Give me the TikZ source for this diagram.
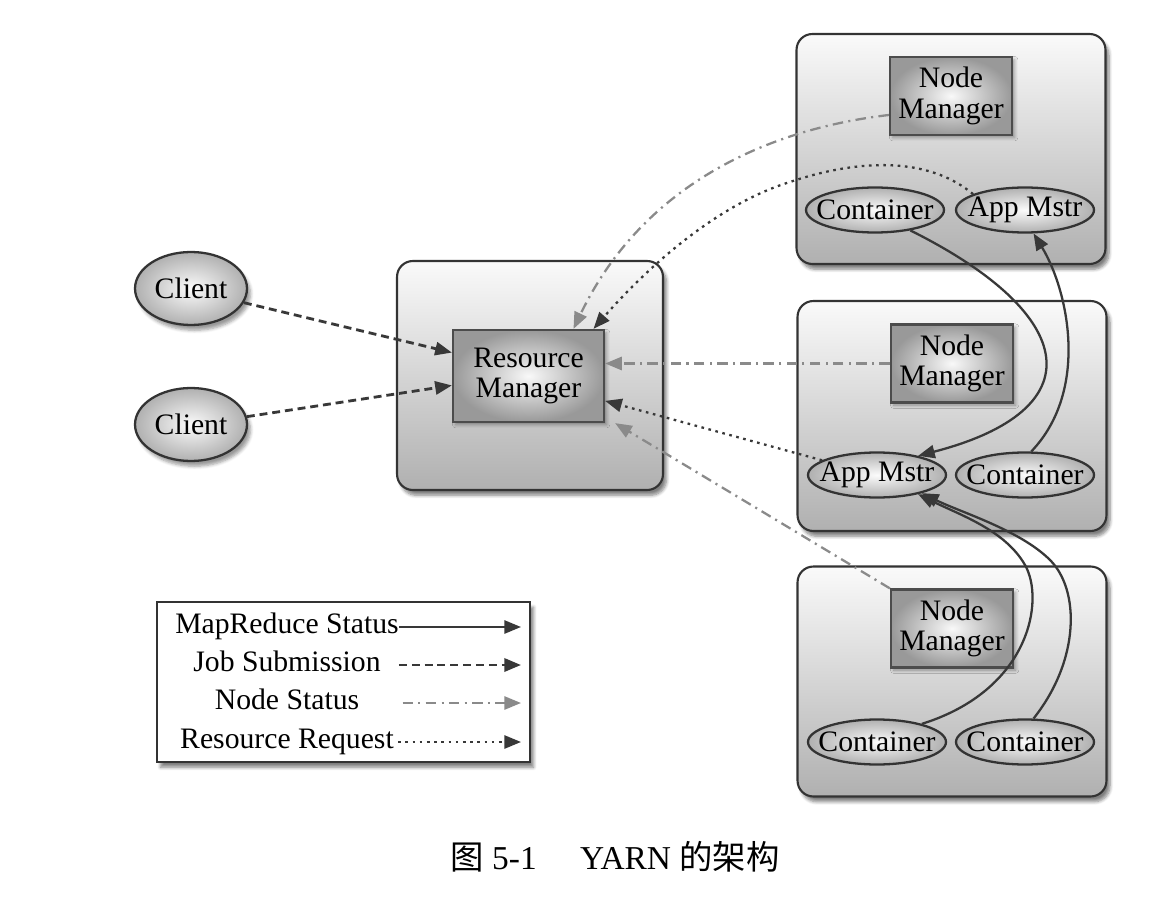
\documentclass[tikz,border=0pt]{standalone}
\usepackage{fontspec}
\setmainfont{Liberation Serif}
\newfontfamily\cjk{Noto Sans CJK SC}
\usetikzlibrary{arrows.meta,shadows.blur,shapes.geometric,calc}

\definecolor{edgec}{HTML}{333333}
\definecolor{dkc}{HTML}{383838}
\definecolor{ltc}{HTML}{8A8A8A}
\newcommand\mainfs{\fontsize{16.9}{17.5}\selectfont}

\tikzset{
  bigbox/.style={draw=edgec, line width=1.2pt, rounded corners=9pt,
    top color=gray!4, bottom color=gray!62,
    blur shadow={shadow xshift=2pt, shadow yshift=-3pt, shadow blur steps=6, shadow opacity=50},
    minimum width=6.18cm, minimum height=4.6cm},
  mgr/.style={draw=gray!60!black, line width=1.3pt, inner color=gray!5, outer color=gray!80,
    align=center, font=\mainfs, inner sep=0pt,
    blur shadow={shadow xshift=1.5pt, shadow yshift=-1.5pt, shadow blur steps=4, shadow opacity=35}},
  oval/.style={ellipse, draw=edgec, line width=1.3pt, inner color=gray!3, outer color=gray!62,
    inner xsep=-10pt, inner ysep=0pt, font=\mainfs,
    minimum width=2.76cm, minimum height=0.9cm},
  client/.style={oval, minimum width=2.24cm, minimum height=1.46cm,
    blur shadow={shadow xshift=2pt, shadow yshift=-3pt, shadow blur steps=5, shadow opacity=40}},
  legbox/.style={draw=edgec, line width=1.4pt, fill=white, minimum width=7.46cm, minimum height=3.2cm,
    blur shadow={shadow xshift=2pt, shadow yshift=-3pt, shadow blur steps=5, shadow opacity=50}},
  legtext/.style={font=\mainfs, inner sep=0pt, anchor=base},
  conn/.style={line width=1.3pt, -{Triangle[length=9.5pt,width=7.5pt]}},
  mrs/.style={conn, draw=dkc},
  jobs/.style={conn, draw=dkc, line width=1.6pt, dash pattern=on 4.5pt off 2.8pt},
  nstat/.style={conn, draw=ltc, dash pattern=on 6pt off 3pt on 1.2pt off 3pt},
  rreq/.style={conn, draw=dkc, dash pattern=on 1.5pt off 2.6pt},
}

\begin{document}
\begin{tikzpicture}[x=0.02cm, y=-0.02cm]
\useasboundingbox (0,0) rectangle (1166,898);

% containers
\node[bigbox, minimum width=5.32cm, minimum height=4.58cm] (rmbox) at (530,375.5) {};
\node[bigbox] (nm1box) at (951,149) {};
\node[bigbox] (nm2box) at (952,416) {};
\node[bigbox] (nm3box) at (952,681.5) {};

% managers
\node[mgr, minimum width=3.02cm, minimum height=1.84cm] (rm) at (528.5,376) {Resource\\Manager};
\node[mgr, minimum width=2.44cm, minimum height=1.56cm] (nm1) at (951,96) {Node\\Manager};
\node[mgr, minimum width=2.44cm, minimum height=1.56cm] (nm2) at (952,363.5) {Node\\Manager};
\node[mgr, minimum width=2.44cm, minimum height=1.56cm] (nm3) at (952,628.5) {Node\\Manager};

% ellipses
\node[oval] (c1) at (875,210) {Container};
\node[oval] (am1) at (1025,210) {App Mstr};
\node[oval] (am2) at (877,475) {App Mstr};
\node[oval] (c2) at (1025,475) {Container};
\node[oval] (c3a) at (877,742) {Container};
\node[oval] (c3b) at (1025,742) {Container};

% clients
\node[client] (cl1) at (191,288.5) {Client};
\node[client] (cl2) at (191,424.5) {Client};

% job submission
\draw[jobs] (cl1.-15) -- (rm.163);
\draw[jobs] (cl2.8) -- (rm.187);

% node status
\draw[nstat] (nm1.197) .. controls (760,130) and (640,190) .. ([xshift=0.9cm]rm.north);
\draw[nstat] (nm2.west) -- (rm.east |- nm2.west);
\draw[nstat] (nm3.north west) -- ([xshift=0.2cm]rm.south east);

% resource request
\draw[rreq] (am1.163) .. controls (920,150) and (840,165) .. (790,182)
  .. controls (715,205) and (645,270) .. ([xshift=1.3cm]rm.north);
\draw[rreq] (am2.165) -- (rm.-18);

% mapreduce status
\draw[mrs] (c1.-30) .. controls (1080,315) and (1095,410) .. (am2.25);
\draw[mrs] (c2.75) .. controls (1090,390) and (1068,290) .. (am1.-70);
\draw[mrs] (c3a.22) .. controls (1030,690) and (1045,600) .. (1025,565)
  .. controls (1005,530) and (960,515) .. (am2.-25);
\draw[mrs] (c3b.70) .. controls (1080,660) and (1080,590) .. (1050,560)
  .. controls (1020,530) and (960,512) .. (am2.-22);

% legend
\node[legbox] (leg) at (343.5,682) {};
\node[legtext] (lt1) at (287,633) {MapReduce Status};
\node[legtext] (lt2) at (287,671) {Job Submission};
\node[legtext] (lt3) at (287,709) {Node Status};
\node[legtext] (lt4) at (287,748) {Resource Request};
\coordinate (le1) at (521,627);
\coordinate (le2) at (521,665);
\coordinate (le3) at (521,703);
\coordinate (le4) at (521,742);
\draw[mrs] (lt1.east |- le1) -- (le1);
\draw[jobs] ([xshift=0.36cm]lt2.east |- le2) -- (le2);
\draw[nstat] ([xshift=0.86cm]lt3.east |- le3) -- (le3);
\draw[rreq] ([xshift=0.08cm]lt4.east |- le4) -- (le4);

% caption
\node[font=\fontsize{19}{22}\selectfont] (cap) at (615,857) {{\cjk 图} 5-1\hspace{1.3em}YARN {\cjk 的架构}};
\end{tikzpicture}
\end{document}
